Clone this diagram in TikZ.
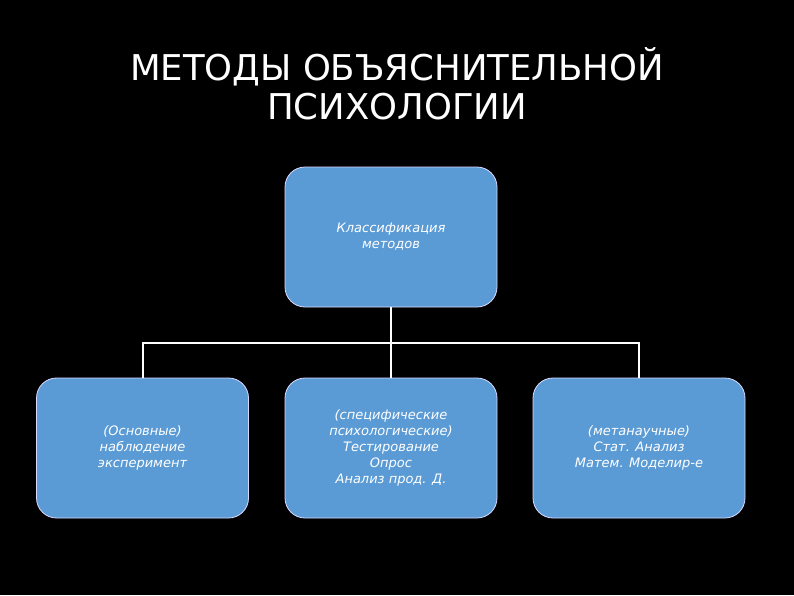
\documentclass[tikz,border=0pt]{standalone}
\usepackage{fontspec}
\setmainfont{DejaVu Sans}
\begin{document}
\begin{tikzpicture}[x=1pt,y=-1pt,
  box/.style={draw=white!85!blue, line width=0.8pt, fill=boxblue, rounded corners=20pt,
    minimum width=212pt, minimum height=140pt, inner sep=0pt, align=center,
    text=white, font=\fontsize{13}{16}\selectfont\itshape},
  link/.style={draw=white, line width=2pt}]
\definecolor{boxblue}{HTML}{5B9BD5}
\fill[black] (0,0) rectangle (794,595);
\useasboundingbox (0,0) rectangle (794,595);
\node[text=white, align=center, font=\fontsize{35.5}{39}\selectfont] (title) at (397,84) {МЕТОДЫ ОБЪЯСНИТЕЛЬНОЙ\\ПСИХОЛОГИИ};
\node[box] (top) at (391,237) {Классификация\\методов};
\node[box] (left) at (142.5,448) {(Основные)\\наблюдение\\эксперимент};
\node[box] (mid) at (391,448) {(специфические\\психологические)\\Тестирование\\Опрос\\Анализ прод. Д.};
\node[box] (right) at (639,448) {(метанаучные)\\Стат. Анализ\\Матем. Моделир-е};
\coordinate (j) at (391,343);
\draw[link] (top.south) -- (j);
\draw[link] (left.north) |- (j) -| (right.north);
\draw[link] (j) -- (mid.north);
\end{tikzpicture}
\end{document}
